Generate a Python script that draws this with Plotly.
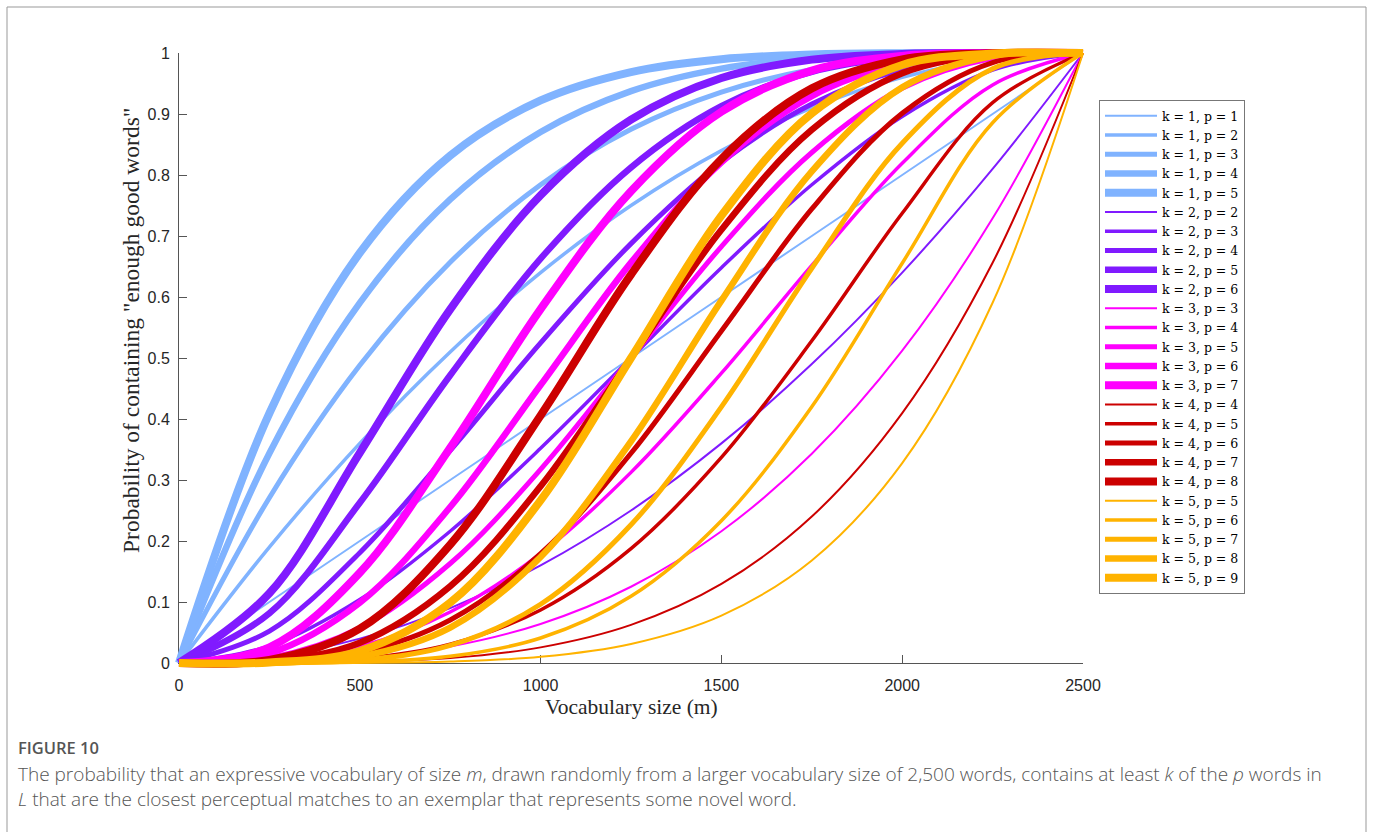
import plotly.graph_objects as go

# ---------------- data ----------------
M_VALUES = [0, 250, 500, 750, 1000, 1250, 1500, 1750, 2000, 2250, 2500]

K1_P = [1, 2, 3, 4, 5]
K1_VALUES = [
    [0, 0.1, 0.2, 0.3, 0.4, 0.5, 0.6, 0.7, 0.8, 0.9, 1],
    [0, 0.19, 0.36, 0.51, 0.64, 0.75, 0.84, 0.91, 0.96, 0.99, 1],
    [0, 0.271, 0.488, 0.657, 0.784, 0.875, 0.936, 0.973, 0.992, 0.999, 1],
    [0, 0.3439, 0.5904, 0.7599, 0.8704, 0.9375, 0.9744, 0.9919, 0.9984, 0.9999, 1],
    [0, 0.4095, 0.6723, 0.8319, 0.9222, 0.9688, 0.9898, 0.9976, 0.9997, 1.0, 1],
]
K2_P = [2, 3, 4, 5, 6]
K2_VALUES = [
    [0, 0.01, 0.04, 0.09, 0.16, 0.25, 0.36, 0.49, 0.64, 0.81, 1],
    [0, 0.028, 0.104, 0.216, 0.352, 0.5, 0.648, 0.784, 0.896, 0.972, 1],
    [0, 0.0523, 0.1808, 0.3483, 0.5248, 0.6875, 0.8208, 0.9163, 0.9728, 0.9963, 1],
    [0, 0.0815, 0.2627, 0.4718, 0.6630, 0.8125, 0.9130, 0.9692, 0.9933, 0.9995, 1],
    [0, 0.1143, 0.3446, 0.5798, 0.7667, 0.8906, 0.9590, 0.9891, 0.9984, 0.9999, 1],
]
K3_P = [3, 4, 5, 6, 7]
K3_VALUES = [
    [0, 0.001, 0.008, 0.027, 0.064, 0.125, 0.216, 0.343, 0.512, 0.729, 1],
    [0, 0.0037, 0.0272, 0.0837, 0.1792, 0.3125, 0.4752, 0.6517, 0.8192, 0.9477, 1],
    [0, 0.0086, 0.0579, 0.1631, 0.3174, 0.5, 0.6826, 0.8369, 0.9421, 0.9914, 1],
    [0, 0.0159, 0.0989, 0.2557, 0.4557, 0.6563, 0.8208, 0.9295, 0.9830, 0.9987, 1],
    [0, 0.0257, 0.1480, 0.3529, 0.5801, 0.7734, 0.9037, 0.9712, 0.9953, 0.9998, 1],
]
K4_P = [4, 5, 6, 7, 8]
K4_VALUES = [
    [0, 0.0001, 0.0016, 0.0081, 0.0256, 0.0625, 0.1296, 0.2401, 0.4096, 0.6561, 1],
    [0, 0.0005, 0.0067, 0.0308, 0.0870, 0.1875, 0.3370, 0.5282, 0.7373, 0.9185, 1],
    [0, 0.0013, 0.0170, 0.0705, 0.1792, 0.3438, 0.5443, 0.7443, 0.9011, 0.9842, 1],
    [0, 0.0027, 0.0333, 0.1260, 0.2898, 0.5, 0.7102, 0.8740, 0.9667, 0.9973, 1],
    [0, 0.0050, 0.0563, 0.1941, 0.4059, 0.6367, 0.8263, 0.9420, 0.9896, 0.9996, 1],
]
K5_P = [5, 6, 7, 8, 9]
K5_VALUES = [
    [0, 0.00001, 0.0003, 0.0024, 0.0102, 0.0313, 0.0778, 0.1681, 0.3277, 0.5905, 1],
    [0, 0.0001, 0.0016, 0.0109, 0.0410, 0.1094, 0.2333, 0.4202, 0.6554, 0.8857, 1],
    [0, 0.0002, 0.0047, 0.0288, 0.0963, 0.2266, 0.4199, 0.6471, 0.8520, 0.9743, 1],
    [0, 0.0004, 0.0104, 0.0580, 0.1737, 0.3633, 0.5941, 0.8059, 0.9437, 0.9950, 1],
    [0, 0.0009, 0.0196, 0.0988, 0.2666, 0.5, 0.7334, 0.9012, 0.9804, 0.9991, 1],
]

X_TICKS = [0, 500, 1000, 1500, 2000, 2500]
Y_TICKS = [0, 0.1, 0.2, 0.3, 0.4, 0.5, 0.6, 0.7, 0.8, 0.9, 1]

X_TITLE = "Vocabulary size (m)"
Y_TITLE = 'Probability of containing "enough good words"'
FIG_LABEL = "FIGURE 10"
CAPTION = ("The probability that an expressive vocabulary of size <i>m</i>, drawn randomly from a larger "
           "vocabulary size of 2,500 words, contains at least <i>k</i> of the <i>p</i> words in<br>"
           "<i>L</i> that are the closest perceptual matches to an exemplar that represents some novel word.")

# ---------------- styles ----------------
GROUPS = [
    (1, K1_P, K1_VALUES, "#80b3ff"),
    (2, K2_P, K2_VALUES, "#801aff"),
    (3, K3_P, K3_VALUES, "#ff00ff"),
    (4, K4_P, K4_VALUES, "#cc0000"),
    (5, K5_P, K5_VALUES, "#ffb300"),
]

W, H = 1373, 832
PX0, PX1 = 179, 1083     # pixel columns of m=0 and m=2500
PY0, PY1 = 663, 53       # pixel rows of P=0 and P=1
PAD = 10
PW = PX1 - PX0 + 2 * PAD
PH = PY0 - PY1 + 2 * PAD
XMAX = 2500
xpad = PAD * XMAX / (PX1 - PX0)
ypad = PAD / (PY0 - PY1)


def fx(px):
    return (px - (PX0 - PAD)) / PW


def fy(py):
    return (PY0 + PAD - py) / PH


SERIF = "Liberation Serif, Times New Roman, serif"
LEGSERIF = "DejaVu Serif, serif"
SANS = "Liberation Sans, Arial, sans-serif"
CAP = "Open Sans, Noto Sans, sans-serif"

fig = go.Figure()

# dummy trace to anchor the visible axes
fig.add_trace(go.Scatter(x=[None], y=[None], xaxis="x", yaxis="y",
                         showlegend=False, hoverinfo="skip"))

for k, plist, vals, color in GROUPS:
    for p, v in zip(plist, vals):
        fig.add_trace(go.Scatter(
            x=M_VALUES, y=v, mode="lines",
            line=dict(color=color, width=2 + 1.5 * (p - k), shape="spline", smoothing=1.0),
            name=f"k = {k}, p = {p}",
            xaxis="x2", yaxis="y2",
        ))

axis_common = dict(showgrid=False, zeroline=False, showline=True, linecolor="#555555",
                   linewidth=1, ticks="inside", ticklen=8, tickcolor="#555555",
                   tickfont=dict(family=SANS, size=16, color="#262626"))

fig.update_layout(
    width=W, height=H,
    margin=dict(l=PX0 - PAD, r=W - PX1 - PAD, t=PY1 - PAD, b=H - PY0 - PAD),
    paper_bgcolor="white", plot_bgcolor="rgba(0,0,0,0)",
    xaxis=dict(domain=[PAD / PW, 1 - PAD / PW], range=[0, XMAX], anchor="y",
               tickvals=X_TICKS, ticklabelstandoff=8, **axis_common),
    yaxis=dict(domain=[PAD / PH, 1 - PAD / PH], range=[0, 1], anchor="x",
               tickvals=Y_TICKS, ticklabelstandoff=5, **axis_common),
    xaxis2=dict(domain=[0, 1], range=[-xpad, XMAX + xpad], anchor="y2", visible=False),
    yaxis2=dict(domain=[0, 1], range=[-ypad, 1 + ypad], anchor="x2", visible=False),
    showlegend=True,
    legend=dict(x=fx(1099), y=fy(100), xanchor="left", yanchor="top",
                bgcolor="white", bordercolor="#777777", borderwidth=1,
                font=dict(family=LEGSERIF, size=12.5, color="black"),
                tracegroupgap=0, itemwidth=52),
    annotations=[
        dict(text=X_TITLE, x=fx(631), y=fy(707), xref="paper", yref="paper",
             showarrow=False, xanchor="center", yanchor="middle",
             font=dict(family=SERIF, size=21.5, color="#262626")),
        dict(text=Y_TITLE, x=fx(131), y=fy(331), xref="paper", yref="paper",
             showarrow=False, xanchor="center", yanchor="middle", textangle=-90,
             font=dict(family=SERIF, size=23.5, color="#262626")),
        dict(text=FIG_LABEL, x=fx(16), y=fy(747), xref="paper", yref="paper",
             showarrow=False, xanchor="left", yanchor="middle",
             font=dict(family=CAP, size=16.5, color="#555555", weight=600)),
        dict(text=CAPTION, x=fx(16), y=fy(786), xref="paper", yref="paper",
             showarrow=False, xanchor="left", yanchor="middle", align="left",
             font=dict(family=CAP, size=19, color="#555555", weight=300)),
    ],
    shapes=[
        dict(type="rect", xref="paper", yref="paper",
             x0=fx(7), x1=fx(1366), y0=fy(7), y1=fy(850),
             line=dict(color="#999999", width=1), fillcolor="rgba(0,0,0,0)", layer="below"),
    ],
)

fig.write_html("out.html", config={"displayModeBar": False},
               post_script="document.body.style.margin='0px';")
